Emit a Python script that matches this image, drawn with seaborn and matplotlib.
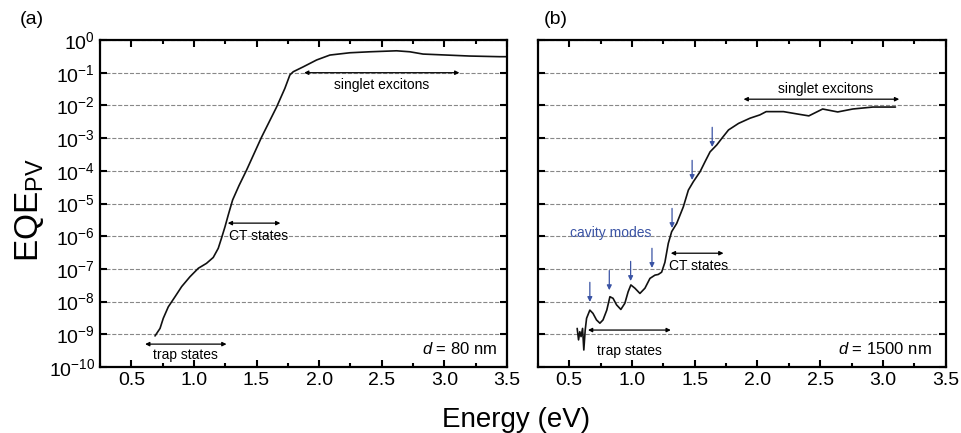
import numpy as np
import pandas as pd
import matplotlib
matplotlib.use("Agg")
import matplotlib.pyplot as plt
from matplotlib.ticker import MultipleLocator, NullLocator
import seaborn as sns

# Datos (energía en eV, EQE en exponente log10)
a_energia = [0.689, 0.729, 0.755, 0.795, 0.849, 0.902, 0.968, 1.035, 1.10, 1.154, 1.194, 1.22,
             1.248, 1.274, 1.309, 1.36, 1.42, 1.54, 1.66, 1.726, 1.766, 1.793, 1.873, 1.98,
             2.086, 2.245, 2.405, 2.618, 2.724, 2.83, 3.017, 3.20, 3.44, 3.50]
a_log_eqe = [-9.05, -8.82, -8.51, -8.16, -7.85, -7.54, -7.24, -6.98, -6.83, -6.65, -6.37, -6.06,
             -5.71, -5.35, -4.89, -4.45, -3.98, -2.97, -2.05, -1.48, -1.07, -0.97, -0.82, -0.61,
             -0.46, -0.39, -0.36, -0.33, -0.36, -0.43, -0.46, -0.49, -0.51, -0.51]

b_energia = [0.564, 0.575, 0.585, 0.595, 0.607, 0.617, 0.628, 0.639, 0.665, 0.69, 0.718, 0.745,
             0.77, 0.80, 0.825, 0.85, 0.878, 0.912, 0.944, 0.97, 0.992, 1.024, 1.064, 1.104,
             1.144, 1.184, 1.21, 1.237, 1.263, 1.29, 1.317, 1.357, 1.41, 1.45, 1.49, 1.543,
             1.583, 1.623, 1.676, 1.716, 1.77, 1.85, 1.942, 2.02, 2.07, 2.208, 2.33, 2.41,
             2.52, 2.64, 2.76, 2.92, 3.10]
b_log_eqe = [-8.82, -9.17, -8.92, -9.07, -8.82, -9.48, -8.87, -8.51, -8.26, -8.36, -8.56, -8.66,
             -8.56, -8.26, -7.85, -7.90, -8.10, -8.24, -8.05, -7.70, -7.49, -7.59, -7.75, -7.59,
             -7.29, -7.19, -7.17, -7.10, -6.80, -6.22, -5.86, -5.61, -5.10, -4.59, -4.33, -4.03,
             -3.72, -3.42, -3.21, -3.01, -2.75, -2.55, -2.39, -2.29, -2.19, -2.19, -2.27, -2.32,
             -2.11, -2.20, -2.11, -2.05, -2.05]

# Modos de cavidad (flechas azules): energía y exponente de la punta
modos_energia = [0.665, 0.82, 0.99, 1.16, 1.32, 1.48, 1.64]
modos_log_punta = [-8.01, -7.65, -7.37, -6.97, -5.75, -4.28, -3.27]

y_exponentes = list(range(0, -11, -1))
y_etiquetas = [r"$10^{%d}$" % e for e in y_exponentes]
x_ticks = [0.5, 1.0, 1.5, 2.0, 2.5, 3.0, 3.5]

sns.set_style("ticks")
plt.rcParams["font.family"] = ["Liberation Sans", "DejaVu Sans"]
plt.rcParams["mathtext.fontset"] = "custom"
plt.rcParams["mathtext.rm"] = "Liberation Sans"
plt.rcParams["mathtext.it"] = "Liberation Sans:italic"
plt.rcParams["mathtext.default"] = "regular"
plt.rcParams["text.color"] = "black"
plt.rcParams["xtick.color"] = "black"
plt.rcParams["ytick.color"] = "black"

df_a = pd.DataFrame({"E": a_energia, "EQE": 10.0 ** np.array(a_log_eqe)})
df_b = pd.DataFrame({"E": b_energia, "EQE": 10.0 ** np.array(b_log_eqe)})

fig = plt.figure(figsize=(9.62, 4.33), dpi=100)
ax_a = fig.add_axes([0.104, 0.1524, 0.423, 0.7552])
ax_b = fig.add_axes([0.559, 0.1524, 0.424, 0.7552])

for ax, df in [(ax_a, df_a), (ax_b, df_b)]:
    sns.lineplot(data=df, x="E", y="EQE", ax=ax, color="#111111", linewidth=1.2,
                 sort=False, estimator=None)
    ax.set_yscale("log")
    ax.set_xlim(0.25, 3.5)
    ax.set_ylim(1e-10, 1)
    ax.set_yticks([10.0 ** e for e in y_exponentes])
    ax.yaxis.set_minor_locator(NullLocator())
    ax.set_xticks(x_ticks)
    ax.xaxis.set_minor_locator(MultipleLocator(0.25))
    ax.set_xticklabels([f"{t:.1f}" for t in x_ticks])
    ax.grid(axis="y", which="major", linestyle="--", color="#888888", linewidth=0.8)
    ax.tick_params(which="both", direction="in", top=True, right=True, width=1.5, labelsize=14)
    ax.tick_params(which="major", length=5)
    ax.tick_params(which="minor", length=3)
    for s in ax.spines.values():
        s.set_linewidth(1.6)
        s.set_color("black")
    ax.set_xlabel("")
    ax.set_ylabel("")

ax_a.set_yticklabels(y_etiquetas)
ax_b.set_yticklabels([])

flecha = dict(arrowstyle="<|-|>", color="black", lw=0.9, mutation_scale=6, shrinkA=0, shrinkB=0)
txt = dict(fontsize=10, ha="center", va="center")

# (a)
ax_a.annotate("", xy=(1.88, 1e-1), xytext=(3.12, 1e-1), arrowprops=flecha)
ax_a.text(2.5, 10 ** -1.38, "singlet excitons", **txt)
ax_a.annotate("", xy=(1.27, 10 ** -5.6), xytext=(1.69, 10 ** -5.6), arrowprops=flecha)
ax_a.text(1.52, 10 ** -6.0, "CT states", **txt)
ax_a.annotate("", xy=(0.61, 10 ** -9.3), xytext=(1.26, 10 ** -9.3), arrowprops=flecha)
ax_a.text(0.93, 10 ** -9.62, "trap states", **txt)
ax_a.text(3.42, 10 ** -9.45, r"$\mathit{d}$ = 80 nm", fontsize=12, ha="right", va="center")

# (b)
ax_b.annotate("", xy=(1.89, 10 ** -1.81), xytext=(3.13, 10 ** -1.81), arrowprops=flecha)
ax_b.text(2.54, 10 ** -1.5, "singlet excitons", **txt)
ax_b.annotate("", xy=(1.31, 10 ** -6.52), xytext=(1.73, 10 ** -6.52), arrowprops=flecha)
ax_b.text(1.53, 10 ** -6.92, "CT states", **txt)
ax_b.annotate("", xy=(0.65, 10 ** -8.87), xytext=(1.31, 10 ** -8.87), arrowprops=flecha)
ax_b.text(0.98, 10 ** -9.5, "trap states", **txt)
ax_b.text(3.39, 10 ** -9.45, r"$\mathit{d}$ = 1500 nm", fontsize=12, ha="right", va="center")
ax_b.text(0.83, 10 ** -5.9, "cavity modes", fontsize=10, color="#3a53a4", ha="center", va="center")

flecha_azul = dict(arrowstyle="-|>", color="#3a53a4", lw=0.9, mutation_scale=7, shrinkA=0, shrinkB=0)
for e, p in zip(modos_energia, modos_log_punta):
    ax_b.annotate("", xy=(e, 10 ** p), xytext=(e, 10 ** (p + 0.6)), arrowprops=flecha_azul)

fig.text(0.021, 0.955, "(a)", fontsize=14, ha="left", va="center")
fig.text(0.565, 0.955, "(b)", fontsize=14, ha="left", va="center")
fig.text(0.031, 0.515, r"EQE$_{PV}$", fontsize=24, rotation=90, ha="center", va="center")
fig.text(0.536, 0.014, "Energy (eV)", fontsize=20, ha="center", va="baseline")

fig.savefig("out.png", dpi=100)
